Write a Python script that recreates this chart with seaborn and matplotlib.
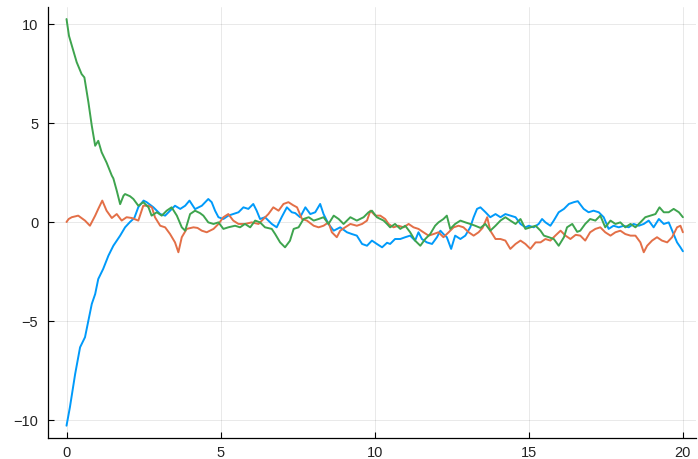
import pandas as pd
import numpy as np
import matplotlib
matplotlib.use('Agg')
import matplotlib.pyplot as plt
import seaborn as sns

# values
t_blue = [0, 0.11, 0.28, 0.44, 0.6, 0.71, 0.82, 0.93, 1.03, 1.19, 1.36, 1.52, 1.74, 1.9, 2.06, 2.2,
          2.33, 2.5, 2.6, 2.82, 3.04, 3.2, 3.36, 3.52, 3.69, 3.85, 3.99, 4.17, 4.39, 4.6, 4.71, 4.82,
          4.93, 5.09, 5.25, 5.41, 5.58, 5.74, 5.9, 6.06, 6.17, 6.28, 6.44, 6.66, 6.82, 6.98, 7.15, 7.31,
          7.42, 7.58, 7.75, 7.91, 8.07, 8.23, 8.34, 8.5, 8.67, 8.88, 9.1, 9.26, 9.42, 9.59, 9.75, 9.91,
          10.07, 10.24, 10.4, 10.5, 10.66, 10.83, 10.99, 11.15, 11.31, 11.42, 11.53, 11.69, 11.86,
          12.02, 12.13, 12.23, 12.34, 12.48, 12.61, 12.78, 12.94, 13.1, 13.21, 13.32, 13.43, 13.59,
          13.75, 13.92, 14.08, 14.24, 14.4, 14.57, 14.73, 14.89, 15.0, 15.16, 15.32, 15.43, 15.54,
          15.7, 15.81, 15.97, 16.14, 16.3, 16.46, 16.59, 16.78, 16.94, 17.1, 17.27, 17.43, 17.59,
          17.75, 17.92, 18.08, 18.24, 18.4, 18.57, 18.73, 18.89, 19.05, 19.22, 19.38, 19.54, 19.7,
          19.81, 19.92, 20.0]
y_blue = [-10.29, -9.36, -7.68, -6.33, -5.82, -4.98, -4.14, -3.64, -2.88, -2.37, -1.7, -1.2, -0.69, -0.27, 0.0, 0.2,
          0.75, 1.08, 1.0, 0.74, 0.4, 0.32, 0.57, 0.82, 0.66, 0.82, 1.08, 0.65, 0.82, 1.16, 1.0, 0.57,
          0.24, 0.15, 0.32, 0.4, 0.49, 0.74, 0.66, 0.91, 0.57, 0.15, 0.24, -0.1, -0.27, 0.24, 0.74, 0.49,
          0.45, 0.24, 0.74, 0.4, 0.49, 0.91, 0.4, -0.1, -0.44, -0.27, -0.52, -0.61, -0.69, -1.11, -1.2, -0.94,
          -1.11, -1.28, -1.05, -1.11, -0.86, -0.86, -0.77, -0.69, -0.94, -0.52, -0.86, -1.03, -1.11,
          -0.77, -0.44, -0.61, -0.77, -1.36, -0.69, -0.86, -0.69, -0.27, 0.24, 0.66, 0.74, 0.5,
          0.24, 0.4, 0.24, 0.4, 0.32, 0.24, -0.1, -0.27, -0.19, -0.27, -0.1, 0.15, -0.02,
          -0.19, 0.07, 0.49, 0.66, 0.91, 1.0, 1.05, 0.66, 0.49, 0.57, 0.49, 0.24, -0.35,
          -0.19, -0.27, -0.19, -0.27, -0.1, -0.19, -0.1, 0.07, -0.27, 0.15, -0.1, -0.02, -0.61,
          -1.03, -1.28, -1.48]

t_orange = [0, 0.07, 0.17, 0.38, 0.6, 0.76, 0.93, 1.03, 1.16, 1.3, 1.47, 1.63, 1.79, 1.95, 2.12, 2.33,
            2.49, 2.66, 2.77, 2.87, 3.04, 3.2, 3.36, 3.52, 3.63, 3.74, 3.9, 4.12, 4.25, 4.39, 4.55, 4.77,
            4.93, 5.09, 5.25, 5.41, 5.58, 5.79, 6.01, 6.23, 6.39, 6.55, 6.71, 6.88, 7.04, 7.2, 7.35, 7.48,
            7.64, 7.8, 8.02, 8.18, 8.34, 8.5, 8.61, 8.77, 8.88, 9.04, 9.21, 9.42, 9.59, 9.75, 9.86, 10.02,
            10.18, 10.34, 10.45, 10.61, 10.77, 10.94, 11.1, 11.26, 11.42, 11.58, 11.75, 11.91, 12.07,
            12.23, 12.4, 12.56, 12.72, 12.88, 13.05, 13.21, 13.37, 13.5, 13.65, 13.75, 13.92, 14.08,
            14.24, 14.4, 14.57, 14.73, 14.89, 15.05, 15.22, 15.38, 15.54, 15.7, 15.86, 16.03, 16.19,
            16.35, 16.52, 16.67, 16.83, 16.99, 17.16, 17.32, 17.48, 17.65, 17.81, 17.97, 18.13, 18.3,
            18.46, 18.62, 18.73, 18.84, 19.0, 19.16, 19.32, 19.49, 19.65, 19.81, 19.92, 20.0]
y_orange = [0.0, 0.15, 0.24, 0.32, 0.07, -0.19, 0.32, 0.66, 1.08, 0.57, 0.2, 0.4, 0.07, 0.24, 0.2, 0.07,
            0.82, 0.82, 0.74, 0.24, -0.19, -0.27, -0.61, -1.03, -1.53, -0.77, -0.35, -0.27, -0.3, -0.44, -0.52, -0.35,
            -0.1, 0.24, 0.4, 0.07, -0.1, -0.1, -0.02, -0.1, 0.15, 0.4, 0.74, 0.57, 0.91, 1.0, 0.85, 0.74,
            0.15, 0.07, -0.19, -0.27, -0.19, -0.02, -0.52, -0.77, -0.44, -0.27, -0.1, -0.19, -0.1, 0.07, 0.57, 0.32,
            0.32, 0.15, -0.1, -0.27, -0.19, -0.27, -0.1, -0.27, -0.35, -0.52, -0.69, -0.61, -0.52,
            -0.77, -0.52, -0.27, -0.19, -0.27, -0.52, -0.69, -0.52, -0.3, 0.24, -0.44, -0.86, -0.86,
            -0.94, -1.36, -1.11, -0.94, -1.11, -1.36, -1.03, -1.03, -0.86, -0.94, -0.69, -0.44, -0.69,
            -0.86, -0.65, -0.69, -0.94, -0.52, -0.35, -0.27, -0.52, -0.69, -0.52, -0.44, -0.61, -0.69,
            -0.69, -1.03, -1.53, -1.2, -0.94, -0.77, -0.94, -1.03, -0.77, -0.27, -0.19, -0.52]

t_green = [0, 0.08, 0.22, 0.33, 0.49, 0.58, 0.71, 0.82, 0.93, 1.03, 1.14, 1.3, 1.47, 1.52, 1.63, 1.74,
           1.85, 1.9, 2.06, 2.17, 2.33, 2.49, 2.66, 2.76, 2.93, 3.09, 3.25, 3.41, 3.58, 3.74, 3.85, 4.01,
           4.17, 4.33, 4.44, 4.6, 4.77, 4.93, 5.09, 5.25, 5.47, 5.63, 5.79, 5.96, 6.12, 6.28, 6.44, 6.66,
           6.77, 6.93, 7.09, 7.25, 7.37, 7.53, 7.69, 7.86, 8.02, 8.18, 8.34, 8.5, 8.67, 8.83, 8.99, 9.21,
           9.42, 9.64, 9.8, 9.91, 10.07, 10.29, 10.4, 10.5, 10.66, 10.83, 10.99, 11.15, 11.31, 11.48,
           11.64, 11.8, 11.96, 12.07, 12.23, 12.34, 12.45, 12.61, 12.78, 12.94, 13.1, 13.26, 13.43,
           13.59, 13.75, 13.92, 14.08, 14.24, 14.4, 14.57, 14.73, 14.89, 15.05, 15.22, 15.38, 15.49,
           15.65, 15.81, 15.97, 16.14, 16.24, 16.41, 16.57, 16.67, 16.83, 16.99, 17.16, 17.32, 17.48,
           17.65, 17.81, 17.97, 18.13, 18.3, 18.46, 18.62, 18.78, 18.95, 19.11, 19.24, 19.38, 19.54,
           19.7, 19.87, 20.0]
y_green = [10.25, 9.4, 8.65, 8.07, 7.47, 7.3, 6.05, 4.86, 3.85, 4.1, 3.52, 3.0, 2.34, 2.2, 1.58, 0.9,
           1.33, 1.41, 1.3, 1.16, 0.82, 1.0, 0.74, 0.32, 0.49, 0.32, 0.57, 0.74, 0.32, -0.27, -0.44, 0.4,
           0.57, 0.45, 0.32, -0.02, -0.1, -0.02, -0.35, -0.27, -0.19, -0.27, -0.1, -0.27, 0.07, -0.02, -0.27, -0.35,
           -0.61, -1.03, -1.28, -0.95, -0.35, -0.27, 0.15, 0.24, 0.07, 0.15, 0.24, -0.1, 0.32, 0.15, -0.1, 0.24,
           0.07, 0.24, 0.49, 0.57, 0.24, 0.07, -0.1, -0.27, -0.1, -0.35, -0.19, -0.52, -0.94, -1.2,
           -0.86, -0.61, -0.19, -0.02, 0.15, 0.32, -0.35, -0.1, 0.07, -0.02, -0.1, -0.19, -0.3,
           -0.1, -0.44, -0.19, 0.07, 0.24, 0.07, -0.1, 0.15, -0.35, -0.27, -0.19, -0.44, -0.69,
           -0.77, -0.86, -1.2, -0.77, -0.27, -0.1, -0.5, -0.44, -0.1, 0.15, 0.07, 0.32, -0.27,
           0.07, -0.1, -0.02, -0.27, -0.1, -0.27, -0.02, 0.24, 0.32, 0.4, 0.74, 0.49, 0.49,
           0.66, 0.49, 0.24]

series_names = ['y1', 'y2', 'y3']
colors = ['#009AFA', '#E36F47', '#3EA44E']
x_ticks = [0, 5, 10, 15, 20]
y_ticks = [-10, -5, 0, 5, 10]

df = pd.concat([
    pd.DataFrame({'t': t_blue, 'y': y_blue, 'series': 'y1'}),
    pd.DataFrame({'t': t_orange, 'y': y_orange, 'series': 'y2'}),
    pd.DataFrame({'t': t_green, 'y': y_green, 'series': 'y3'}),
], ignore_index=True)

sns.set_style('ticks')
plt.rcParams['font.family'] = ['Liberation Sans', 'DejaVu Sans']

fig = plt.figure(figsize=(6.98, 4.6), dpi=100)
ax = fig.add_axes([0.0688, 0.0457, 0.929, 0.937])

sns.lineplot(data=df, x='t', y='y', hue='series', hue_order=series_names,
             palette=colors, estimator=None, sort=False, linewidth=1.4,
             legend=False, ax=ax)

ax.set_xlim(-0.6, 20.44)
ax.set_ylim(-10.91, 10.86)
ax.set_xticks(x_ticks)
ax.set_yticks(y_ticks)
ax.set_xlabel('')
ax.set_ylabel('')
ax.grid(True, color='black', alpha=0.1, linewidth=0.6)
ax.tick_params(direction='in', length=4, width=0.8, labelsize=10.5, colors='black')
ax.tick_params(axis='y', pad=7)
ax.tick_params(axis='x', pad=5)
for lab in ax.get_xticklabels() + ax.get_yticklabels():
    lab.set_color('#222222')
sns.despine(ax=ax)
for s in ['left', 'bottom']:
    ax.spines[s].set_color('black')
    ax.spines[s].set_linewidth(0.9)

fig.savefig('out.png', dpi=100)
